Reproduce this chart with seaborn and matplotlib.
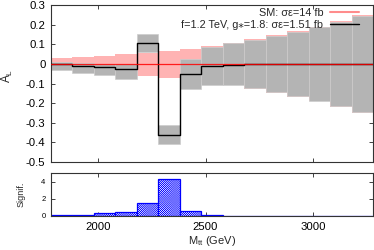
import matplotlib
matplotlib.use("Agg")
import matplotlib.pyplot as plt
from matplotlib.lines import Line2D
import seaborn as sns
import numpy as np
import pandas as pd

# bins in M_tt (GeV)
edges = [1780, 1880, 1980, 2080, 2180, 2280, 2380, 2480, 2580,
         2680, 2780, 2880, 2980, 3080, 3180, 3280]

# SM: central A_L and uncertainty band
sm_al = [0.0] * 15
sm_lo = [-0.028, -0.034, -0.041, -0.05, -0.064, -0.07, -0.08, -0.09,
         -0.11, -0.128, -0.147, -0.168, -0.19, -0.22, -0.25]
sm_hi = [0.028, 0.034, 0.041, 0.048, 0.057, 0.065, 0.078, 0.089,
         0.108, 0.126, 0.145, 0.166, 0.19, 0.218, 0.248]

# signal f=1.2 TeV, g*=1.8
sig_al = [-0.003, -0.009, -0.016, -0.025, 0.107, -0.36, -0.054, -0.013,
          -0.004, -0.002, -0.001, -0.001, -0.001, -0.001, -0.001]
sig_lo = [-0.030, -0.045, -0.057, -0.075, 0.058, -0.41, -0.128, -0.11,
          -0.108, -0.125, -0.144, -0.165, -0.188, -0.217, -0.246]
sig_hi = [0.008, 0.004, 0.0, -0.003, 0.152, -0.31, 0.025, 0.087,
          0.106, 0.123, 0.142, 0.163, 0.188, 0.215, 0.245]

# significance per bin
signif = [0.1, 0.15, 0.3, 0.45, 1.55, 4.3, 0.55, 0.15,
          0.03, 0.03, 0.02, 0.02, 0.02, 0.02, 0.02]

e = np.array(edges)
centers = (e[:-1] + e[1:]) / 2
width = e[1:] - e[:-1]

sns.set_theme(style="ticks")
plt.rcParams['font.family'] = ['Liberation Sans', 'DejaVu Sans']
plt.rcParams['mathtext.default'] = 'regular'
plt.rcParams['axes.unicode_minus'] = False
plt.rcParams['hatch.linewidth'] = 0.3

fig = plt.figure(figsize=(3.74, 2.5), dpi=100)
ax1 = fig.add_axes([51 / 374, 88 / 250, 322 / 374, 157 / 250])
ax2 = fig.add_axes([51 / 374, 34 / 250, 322 / 374, 43 / 250])

# bands
ax1.bar(centers, np.array(sm_hi) - np.array(sm_lo), bottom=sm_lo, width=width,
        color='#ffb3b3', edgecolor='none', zorder=1)
ax1.bar(centers, np.array(sig_hi) - np.array(sig_lo), bottom=sig_lo, width=width,
        color='#b4b4b4', edgecolor='#cdcdcd', linewidth=0.5, zorder=2)

# step lines
df_sig = pd.DataFrame({'m': edges, 'al': sig_al + [sig_al[-1]]})
df_sm = pd.DataFrame({'m': edges, 'al': sm_al + [sm_al[-1]]})
sns.lineplot(data=df_sig, x='m', y='al', ax=ax1, color='black', lw=1.0,
             drawstyle='steps-post', estimator=None, zorder=3)
sns.lineplot(data=df_sm, x='m', y='al', ax=ax1, color='red', lw=0.9,
             drawstyle='steps-post', estimator=None, zorder=4, alpha=0.85)

ax1.set_xlim(1780, 3280)
ax1.set_ylim(-0.5, 0.3)
yt = [0.3, 0.2, 0.1, 0, -0.1, -0.2, -0.3, -0.4, -0.5]
ax1.set_yticks(yt)
ax1.set_yticklabels(['0' if v == 0 else f'{v:.1f}' for v in yt])
ax1.set_xticks([2000, 2500, 3000])
ax1.set_xticklabels([])
ax1.set_xlabel('')
ax1.set_ylabel('A$_L$', fontsize=8.5)
ax1.yaxis.set_label_coords(-0.112, 0.55)

handles = [Line2D([], [], color='#ff8c8c', lw=1.5),
           Line2D([], [], color='black', lw=1.0)]
labels = ['SM: σε=14 fb', 'f=1.2 TeV, g\u204e=1.8: σε=1.51 fb']
ax1.legend(handles, labels, loc='upper right', bbox_to_anchor=(1 - 14 / 322, 0.98),
           frameon=False, markerfirst=False, fontsize=7.8, handlelength=2.7,
           handletextpad=0.6, labelspacing=0.15, borderaxespad=0, borderpad=0)

# significance
df_s = pd.DataFrame({'m': centers, 's': signif})
sns.histplot(data=df_s, x='m', weights='s', bins=list(edges), ax=ax2,
             facecolor='white', edgecolor='blue', hatch='x' * 16, linewidth=0.9)
ax2.set_xlim(1780, 3280)
ax2.set_ylim(0, 5)
ax2.set_yticks([0, 2, 4])
ax2.set_xticks([2000, 2500, 3000])
ax2.set_ylabel('Signif.', fontsize=6.5)
ax2.yaxis.set_label_coords(-0.08, 0.5)
ax2.set_xlabel('M$_{tt}$ (GeV)', fontsize=8, labelpad=2)

for ax in (ax1, ax2):
    ax.tick_params(direction='in', top=True, right=True, length=3, width=0.6,
                   labelsize=8.2, pad=4, colors='#222222', labelcolor='black')
    for s in ax.spines.values():
        s.set_color('#333333')
        s.set_linewidth(0.8)
ax2.tick_params(axis='y', labelsize=5.5)

fig.savefig('out.png', dpi=100)
